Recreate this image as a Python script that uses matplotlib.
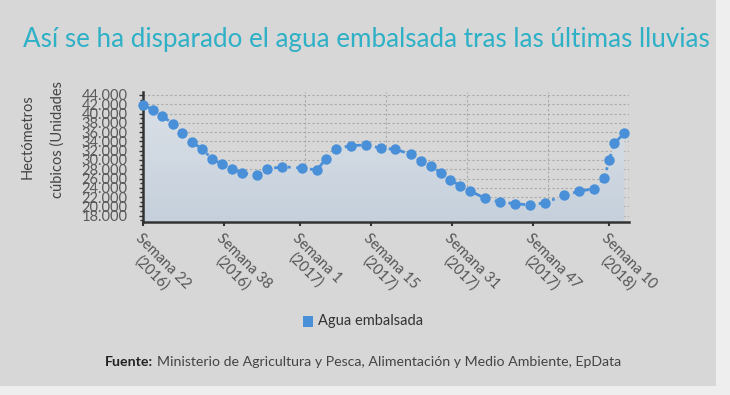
import numpy as np
import matplotlib
matplotlib.use("Agg")
import matplotlib.pyplot as plt
from matplotlib.ticker import MultipleLocator, FixedLocator, FuncFormatter
from matplotlib.colors import LinearSegmentedColormap
from matplotlib.patches import Rectangle

plt.rcParams['font.family'] = ['Lato', 'DejaVu Sans']

# semanas desde la semana 22 de 2016
semanas = [0, 2.0, 3.9, 5.9, 7.8, 9.8, 11.8, 13.7, 15.7, 17.7, 19.7, 22.6, 24.5,
           27.5, 31.4, 34.4, 36.2, 38.2, 41.1, 44.1, 47.1, 49.9, 52.9, 54.9, 56.9,
           58.8, 60.7, 62.7, 64.7, 67.6, 70.6, 73.5, 76.5, 79.4, 83.2, 86.2, 89.1,
           91.1, 92.1, 93.1, 95.1]
agua = [41850, 40830, 39480, 37820, 35880, 33810, 32300, 30210, 29070, 28060,
        27130, 26770, 28000, 28550, 28270, 27840, 30280, 32430, 33080, 33230,
        32520, 32300, 31230, 29780, 28700, 27260, 25750, 24400, 23260, 21750,
        20950, 20580, 20300, 20800, 22390, 23260, 23820, 26060, 30000, 33600,
        35750]

tick_pos = [0, 16, 31, 45, 61, 77, 92]
tick_labels = ['Semana 22\n(2016)', 'Semana 38\n(2016)', 'Semana 1\n(2017)',
               'Semana 15\n(2017)', 'Semana 31\n(2017)', 'Semana 47\n(2017)',
               'Semana 10\n(2018)']

bg = '#d7d7d7'
azul = '#4a90d9'

fig = plt.figure(figsize=(7.3, 3.95), dpi=100)
fig.patch.set_facecolor('#eeeeee')
fig.add_artist(Rectangle((0, 9 / 395), 716 / 730, 1 - 9 / 395,
                         transform=fig.transFigure, facecolor=bg,
                         edgecolor='none', zorder=0))

ax = fig.add_axes([142.7 / 730, 1 - 221.7 / 395, 486.3 / 730, 130 / 395])
ax.set_facecolor(bg)
ax.set_xlim(0, 96)
ax.set_ylim(16700, 44700)

# relleno con degradado bajo la curva
poly = ax.fill_between(semanas, agua, 16700, color='none')
grad = np.linspace(0, 1, 256).reshape(-1, 1)
cmap = LinearSegmentedColormap.from_list('f', ['#c5d0dc', '#dce1e7'])
im = ax.imshow(grad, extent=[0, 96, 16700, 44700], aspect='auto', cmap=cmap,
               origin='lower', zorder=1)
im.set_clip_path(poly.get_paths()[0], transform=ax.transData)

ax.plot(semanas, agua, color=azul, lw=2, linestyle=(0, (3, 2, 1, 2)),
        marker='o', markersize=7.5, markeredgewidth=0, zorder=3, clip_on=False)

# ejes
ax.yaxis.set_major_locator(FixedLocator(list(range(18000, 44001, 2000))))
ax.yaxis.set_minor_locator(MultipleLocator(1000))
ax.yaxis.set_major_formatter(FuncFormatter(lambda v, p: f'{int(v):,}'.replace(',', '.')))
ax.set_xticks(tick_pos)
ax.set_xticklabels(tick_labels, rotation=-45, ha='left', va='top',
                   rotation_mode='anchor', multialignment='center',
                   fontsize=10.5, color='#555555')
ax.xaxis.set_minor_locator(MultipleLocator(16))

ax.tick_params(axis='y', which='major', length=3, width=1, color='#333333',
               labelsize=10.5, labelcolor='#5a5a5a', pad=8)
ax.tick_params(axis='y', which='minor', length=2, width=1, color='#333333')
ax.tick_params(axis='x', which='major', length=3, width=1.5, color='#333333', pad=4)
ax.tick_params(axis='x', which='minor', length=0)

ax.grid(axis='y', which='major', linestyle=(0, (2, 2)), color='#aaaaaa', lw=0.8)
ax.grid(axis='x', which='minor', linestyle=(0, (2, 2)), color='#aaaaaa', lw=0.8)
ax.set_axisbelow(True)

for s in ['top', 'right']:
    ax.spines[s].set_visible(False)
ax.spines['left'].set_color('#333333')
ax.spines['left'].set_linewidth(1.8)
ax.spines['bottom'].set_color('#333333')
ax.spines['bottom'].set_linewidth(1.8)

# textos
fig.text(23 / 730, 1 - 40 / 395,
         'Así se ha disparado el agua embalsada tras las últimas lluvias',
         fontsize=18.7, color='#2eb0c6', ha='left', va='center')
fig.text(28 / 730, 1 - 137 / 395, 'Hectómetros', rotation=90, fontsize=10.5,
         color='#444444', ha='center', va='center')
fig.text(58 / 730, 1 - 140 / 395, 'cúbicos (Unidades', rotation=90, fontsize=10.5,
         color='#444444', ha='center', va='center')

# leyenda
fig.add_artist(Rectangle((303 / 730, 1 - 327 / 395), 10 / 730, 11 / 395,
                         transform=fig.transFigure, facecolor=azul,
                         edgecolor='none'))
fig.text(318 / 730, 1 - 321 / 395, 'Agua embalsada', fontsize=10.5,
         color='#333333', ha='left', va='center')

t1 = fig.text(105 / 730, 1 - 362 / 395, 'Fuente:', fontsize=10.2,
              fontweight='bold', color='#222222', ha='left', va='center')
fig.canvas.draw()
bb = t1.get_window_extent()
fig.text(bb.x1 / 730 + 4 / 730, 1 - 362 / 395,
         'Ministerio de Agricultura y Pesca, Alimentación y Medio Ambiente, EpData',
         fontsize=10.2, color='#444444', ha='left', va='center')

fig.savefig('out.png', dpi=100, facecolor=fig.get_facecolor())
